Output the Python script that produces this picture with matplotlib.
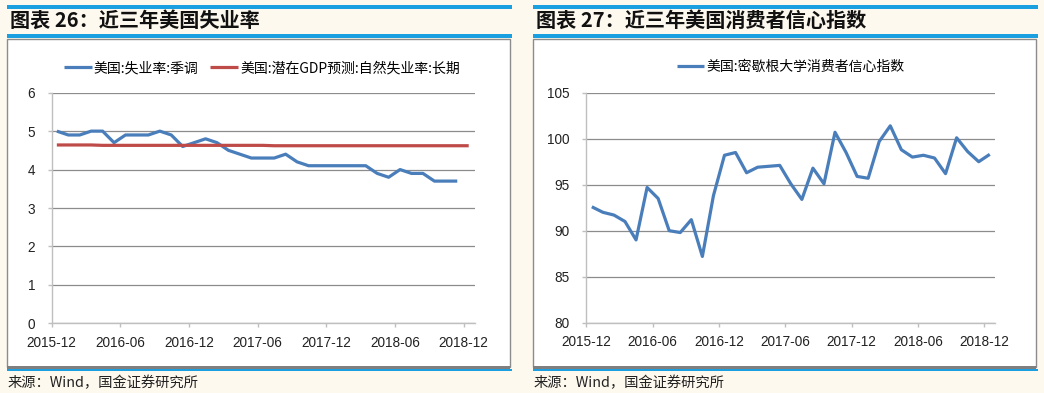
import matplotlib
matplotlib.use('Agg')
import matplotlib.pyplot as plt
import numpy as np
from matplotlib.patches import Rectangle

plt.rcParams['font.family'] = ['Noto Sans CJK SC', 'DejaVu Sans']

# ---------------- data ----------------
tick_labels = ['2015-12', '2016-06', '2016-12', '2017-06', '2017-12', '2018-06', '2018-12']

unemp_label = '美国:失业率:季调'
unemp = [5.0, 4.9, 4.9, 5.0, 5.0, 4.7, 4.9, 4.9, 4.9, 5.0, 4.9, 4.6,
         4.7, 4.8, 4.7, 4.5, 4.4, 4.3, 4.3, 4.3, 4.4, 4.2, 4.1, 4.1,
         4.1, 4.1, 4.1, 4.1, 3.9, 3.8, 4.0, 3.9, 3.9, 3.7, 3.7, 3.7]

natural_label = '美国:潜在GDP预测:自然失业率:长期'
natural = [4.64, 4.64, 4.64, 4.64, 4.63, 4.63, 4.63, 4.63, 4.63, 4.63, 4.63, 4.63,
           4.63, 4.63, 4.63, 4.63, 4.63, 4.63, 4.63, 4.62, 4.62, 4.62, 4.62, 4.62,
           4.62, 4.62, 4.62, 4.62, 4.62, 4.62, 4.62, 4.62, 4.62, 4.62, 4.62, 4.62, 4.62]

sent_label = '美国:密歇根大学消费者信心指数'
sentiment = [92.6, 92.0, 91.7, 91.0, 89.0, 94.7, 93.5, 90.0, 89.8, 91.2, 87.2, 93.8,
             98.2, 98.5, 96.3, 96.9, 97.0, 97.1, 95.1, 93.4, 96.8, 95.1, 100.7, 98.5,
             95.9, 95.7, 99.7, 101.4, 98.8, 98.0, 98.2, 97.9, 96.2, 100.1, 98.6, 97.5, 98.3]

title_left = '图表 26：近三年美国失业率'
title_right = '图表 27：近三年美国消费者信心指数'
source_text = '来源：Wind，国金证券研究所'

# ---------------- layout ----------------
W, H = 1044, 393
BG = '#FEF9EE'
CYAN = '#1AA0E0'
BLUE = '#4A7EBB'
RED = '#BE4B48'
GRID = '#8C8C8C'
AXC = '#BFBFBF'

fig = plt.figure(figsize=(W / 100, H / 100), dpi=100, facecolor=BG)


def fx(x):
    return x / W


def fy(y):
    return 1 - y / H


def rect(x0, x1, y0, y1, fc, ec='none', lw=0, z=-5):
    r = Rectangle((fx(x0), fy(y1)), (x1 - x0) / W, (y1 - y0) / H,
                  transform=fig.transFigure, facecolor=fc, edgecolor=ec,
                  linewidth=lw, zorder=z)
    fig.patches.append(r)


def panel(x0, x1, title):
    rect(x0, x1, 5.5, 8.5, CYAN)
    fig.text(fx(x0 + 3), fy(20), title, fontsize=14.5, fontweight='bold',
             ha='left', va='center', color='#111111')
    rect(x0, x1, 34.5, 37.5, CYAN)
    rect(x0, x1 - 2, 38.5, 367, 'white', ec='#8C8C8C', lw=1.0, z=-4)
    rect(x0, x1 - 2, 365.5, 368.5, '#7F7F7F', z=-3)
    rect(x0, x1, 368.5, 371, CYAN, z=-3)
    fig.text(fx(x0 + 1), fy(383), source_text, fontsize=10.3,
             ha='left', va='center', color='#222222')


panel(7, 512, title_left)
panel(533, 1038, title_right)


def make_axes(l, r, t, b):
    ax = fig.add_axes([fx(l), fy(b), (r - l) / W, (b - t) / H], zorder=5)
    ax.set_facecolor('none')
    for s in ['top', 'right']:
        ax.spines[s].set_visible(False)
    for s in ['left', 'bottom']:
        ax.spines[s].set_color(AXC)
        ax.spines[s].set_linewidth(1.0)
    ax.set_axisbelow(True)
    ax.yaxis.grid(True, color=GRID, linewidth=0.9)
    ax.set_xlim(0, 37)
    ax.set_xticks(np.arange(len(tick_labels)) * 6)
    ax.set_xticklabels(tick_labels, family=['Liberation Sans', 'DejaVu Sans'], fontsize=9.8)
    ax.tick_params(axis='both', length=3, width=1, color=AXC, labelcolor='#222222')
    ax.tick_params(axis='x', pad=6)
    ax.tick_params(axis='y', pad=9)
    return ax


# left chart
axL = make_axes(51.7, 475, 92.7, 323.3)
xu = np.arange(len(unemp)) + 0.45
xn = np.arange(len(natural)) + 0.45
axL.plot(xu, unemp, color=BLUE, linewidth=2.3, label=unemp_label, solid_capstyle='butt')
axL.plot(xn, natural, color=RED, linewidth=2.3, label=natural_label, solid_capstyle='butt')
axL.set_ylim(0, 6)
axL.set_yticks(range(0, 7))
axL.set_yticklabels([str(v) for v in range(0, 7)], family=['Liberation Sans', 'DejaVu Sans'], fontsize=9.8)
axL.legend(loc='center', bbox_to_anchor=(fx(262), fy(68)), bbox_transform=fig.transFigure,
           ncol=2, frameon=False, fontsize=10, handlelength=2.0, handletextpad=0.15,
           columnspacing=0.85, borderpad=0, borderaxespad=0)

# right chart
axR = make_axes(586.3, 995.3, 92.7, 322.7)
xs = np.arange(len(sentiment)) + 0.5
axR.plot(xs, sentiment, color=BLUE, linewidth=2.3, label=sent_label, solid_capstyle='butt')
axR.set_ylim(80, 105)
axR.set_yticks(range(80, 106, 5))
axR.set_yticklabels([str(v) for v in range(80, 106, 5)], family=['Liberation Sans', 'DejaVu Sans'], fontsize=9.8)
axR.legend(loc='center', bbox_to_anchor=(fx(790.5), fy(67)), bbox_transform=fig.transFigure,
           ncol=1, frameon=False, fontsize=10, handlelength=2.0, handletextpad=0.15,
           borderpad=0, borderaxespad=0)

fig.savefig('out.png', dpi=100, facecolor=BG)
